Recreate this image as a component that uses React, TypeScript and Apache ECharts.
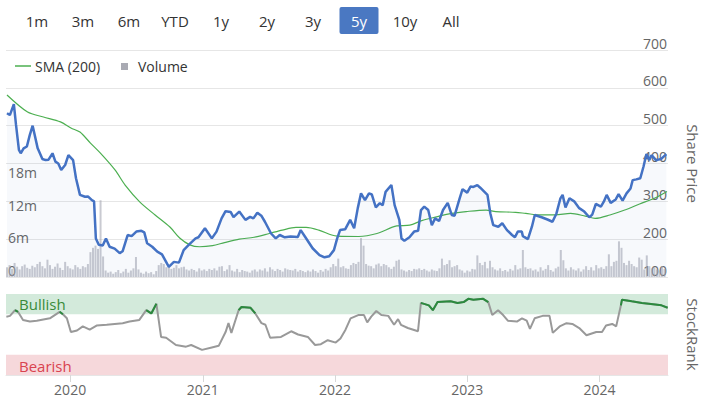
import React, { useEffect, useRef } from "react";
import * as echarts from "echarts";

const rangeButtons = ["1m", "3m", "6m", "YTD", "1y", "2y", "3y", "5y", "10y", "All"];
const activeRange = "5y";
const rangeStart = "2019-07-08";
const rangeEnd = "2024-07-08";
const volumeLabelMax = 18;

const price: [string, number][] = [
  ["2019-07-08", 533], ["2019-07-16", 528], ["2019-07-27", 557], ["2019-08-02", 502], ["2019-08-10", 436],
  ["2019-08-15", 427], ["2019-08-23", 440], ["2019-09-01", 445], ["2019-09-09", 475], ["2019-09-17", 500],
  ["2019-10-01", 440], ["2019-10-14", 412], ["2019-10-23", 409], ["2019-10-31", 410], ["2019-11-11", 427],
  ["2019-11-19", 405], ["2019-11-27", 400], ["2019-12-05", 383], ["2019-12-16", 396], ["2019-12-25", 422],
  ["2020-01-07", 409], ["2020-01-15", 361], ["2020-01-26", 317], ["2020-02-09", 312], ["2020-02-17", 313],
  ["2020-02-28", 303], ["2020-03-05", 300], ["2020-03-10", 202], ["2020-03-18", 185], ["2020-03-29", 183],
  ["2020-04-07", 202], ["2020-04-17", 180], ["2020-05-01", 175], ["2020-05-15", 163], ["2020-05-23", 168],
  ["2020-06-06", 211], ["2020-06-17", 208], ["2020-06-30", 220], ["2020-07-14", 222], ["2020-07-22", 218],
  ["2020-07-30", 189], ["2020-08-13", 180], ["2020-08-27", 167], ["2020-09-09", 160], ["2020-09-28", 127],
  ["2020-10-12", 140], ["2020-10-26", 138], ["2020-11-08", 171], ["2020-11-22", 185], ["2020-12-11", 202],
  ["2020-12-19", 205], ["2021-01-06", 229], ["2021-01-25", 202], ["2021-02-07", 220], ["2021-02-21", 255],
  ["2021-03-04", 274], ["2021-03-18", 272], ["2021-03-26", 258], ["2021-04-11", 273], ["2021-04-28", 251],
  ["2021-05-11", 259], ["2021-05-20", 255], ["2021-05-31", 270], ["2021-06-11", 262], ["2021-06-21", 246],
  ["2021-07-08", 215], ["2021-07-21", 202], ["2021-08-01", 211], ["2021-08-15", 205], ["2021-08-31", 207],
  ["2021-09-20", 206], ["2021-09-28", 224], ["2021-10-11", 205], ["2021-10-31", 176], ["2021-11-19", 158],
  ["2021-12-03", 152], ["2021-12-16", 155], ["2021-12-29", 171], ["2022-01-07", 202], ["2022-01-15", 224],
  ["2022-01-29", 226], ["2022-02-12", 251], ["2022-02-23", 229], ["2022-03-05", 282], ["2022-03-14", 321],
  ["2022-03-25", 303], ["2022-04-05", 321], ["2022-04-13", 318], ["2022-04-24", 284], ["2022-05-05", 295],
  ["2022-05-13", 290], ["2022-05-21", 325], ["2022-06-06", 343], ["2022-06-15", 290], ["2022-06-28", 251],
  ["2022-07-04", 202], ["2022-07-12", 196], ["2022-07-26", 205], ["2022-08-08", 220], ["2022-08-19", 222],
  ["2022-08-27", 277], ["2022-09-05", 286], ["2022-09-16", 277], ["2022-09-26", 237], ["2022-10-05", 255],
  ["2022-10-16", 248], ["2022-10-27", 277], ["2022-11-09", 296], ["2022-11-20", 264], ["2022-11-28", 262],
  ["2022-12-12", 308], ["2022-12-20", 332], ["2023-01-02", 323], ["2023-01-11", 339], ["2023-01-19", 338],
  ["2023-01-30", 343], ["2023-02-07", 336], ["2023-02-27", 317], ["2023-03-07", 268], ["2023-03-15", 237],
  ["2023-03-29", 233], ["2023-04-09", 242], ["2023-04-22", 224], ["2023-05-06", 211], ["2023-05-14", 205],
  ["2023-05-22", 220], ["2023-06-02", 220], ["2023-06-05", 208], ["2023-06-19", 200], ["2023-06-30", 233],
  ["2023-07-08", 264], ["2023-07-27", 258], ["2023-08-12", 252], ["2023-08-26", 246], ["2023-09-06", 268],
  ["2023-09-17", 308], ["2023-09-23", 317], ["2023-10-01", 284], ["2023-10-12", 308], ["2023-10-25", 300],
  ["2023-11-08", 282], ["2023-11-22", 273], ["2023-12-06", 258], ["2023-12-14", 265], ["2023-12-24", 293],
  ["2024-01-07", 286], ["2024-01-15", 299], ["2024-01-23", 317], ["2024-02-03", 296], ["2024-02-17", 305],
  ["2024-02-25", 319], ["2024-03-07", 302], ["2024-03-18", 321], ["2024-03-29", 334], ["2024-04-04", 356],
  ["2024-04-14", 358], ["2024-04-25", 361], ["2024-05-04", 392], ["2024-05-12", 425], ["2024-05-20", 409],
  ["2024-05-26", 422], ["2024-06-08", 409], ["2024-06-22", 412], ["2024-07-06", 425],
];

const sma200: [string, number][] = [
  ["2019-07-08", 581], ["2019-09-03", 536], ["2019-10-17", 523], ["2019-12-03", 510], ["2020-01-01", 494],
  ["2020-01-26", 483], ["2020-02-24", 454], ["2020-03-22", 428], ["2020-05-02", 383], ["2020-05-30", 343],
  ["2020-07-10", 298], ["2020-08-21", 264], ["2020-10-01", 232], ["2020-10-28", 203], ["2020-11-25", 185],
  ["2020-12-22", 180], ["2021-01-27", 183], ["2021-03-01", 191], ["2021-04-11", 200], ["2021-05-22", 205],
  ["2021-07-03", 215], ["2021-08-08", 224], ["2021-09-15", 231], ["2021-10-13", 231], ["2021-11-17", 224],
  ["2021-12-23", 211], ["2022-01-08", 208], ["2022-03-08", 207], ["2022-04-27", 215], ["2022-06-21", 235],
  ["2022-07-27", 237], ["2022-08-29", 249], ["2022-10-09", 259], ["2022-11-19", 268], ["2022-12-30", 273],
  ["2023-02-23", 277], ["2023-03-22", 273], ["2023-05-16", 271], ["2023-06-13", 268], ["2023-07-24", 264],
  ["2023-09-03", 264], ["2023-10-15", 268], ["2023-11-25", 261], ["2023-12-22", 255], ["2024-02-01", 264],
  ["2024-03-13", 277], ["2024-04-23", 293], ["2024-06-03", 308], ["2024-07-08", 326],
];

const stockRank: [string, number][] = [
  ["2019-07-09", 72], ["2019-07-19", 73], ["2019-08-02", 80], ["2019-08-10", 78], ["2019-08-24", 68],
  ["2019-09-12", 66], ["2019-10-01", 67], ["2019-11-06", 70], ["2019-12-03", 78], ["2019-12-12", 75],
  ["2019-12-23", 70], ["2020-01-03", 53], ["2020-01-20", 55], ["2020-02-05", 60], ["2020-02-24", 56],
  ["2020-03-14", 61], ["2020-04-11", 62], ["2020-05-25", 64], ["2020-06-13", 66], ["2020-07-10", 68],
  ["2020-07-29", 80], ["2020-08-12", 76], ["2020-08-26", 88], ["2020-09-08", 47], ["2020-09-22", 46],
  ["2020-10-19", 37], ["2020-11-16", 35], ["2020-11-30", 37], ["2020-12-30", 31], ["2021-01-26", 34],
  ["2021-02-14", 36], ["2021-03-05", 53], ["2021-03-13", 64], ["2021-03-21", 52], ["2021-04-10", 80],
  ["2021-04-18", 84], ["2021-05-13", 83], ["2021-05-26", 76], ["2021-06-12", 64], ["2021-06-23", 62],
  ["2021-07-06", 46], ["2021-08-05", 47], ["2021-09-02", 54], ["2021-09-21", 50], ["2021-10-18", 47],
  ["2021-11-07", 37], ["2021-11-23", 38], ["2021-12-12", 43], ["2022-01-03", 40], ["2022-01-16", 45],
  ["2022-01-30", 56], ["2022-02-13", 70], ["2022-03-06", 74], ["2022-03-22", 74], ["2022-03-31", 65],
  ["2022-04-11", 72], ["2022-04-25", 79], ["2022-05-09", 74], ["2022-05-28", 73], ["2022-06-13", 62],
  ["2022-06-24", 69], ["2022-07-02", 62], ["2022-07-21", 58], ["2022-08-18", 54], ["2022-08-26", 89],
  ["2022-09-17", 86], ["2022-09-28", 80], ["2022-10-11", 90], ["2022-11-16", 91], ["2022-12-05", 89],
  ["2022-12-22", 90], ["2023-01-04", 94], ["2023-01-18", 93], ["2023-02-14", 94], ["2023-02-28", 90],
  ["2023-03-11", 74], ["2023-03-27", 80], ["2023-04-10", 74], ["2023-04-23", 67], ["2023-05-18", 66],
  ["2023-06-01", 70], ["2023-06-14", 67], ["2023-06-23", 57], ["2023-07-06", 70], ["2023-07-28", 73],
  ["2023-08-16", 73], ["2023-08-25", 52], ["2023-09-13", 60], ["2023-10-02", 64], ["2023-10-18", 63],
  ["2023-11-06", 58], ["2023-11-26", 49], ["2023-12-23", 53], ["2024-01-08", 53], ["2024-01-19", 61],
  ["2024-02-05", 63], ["2024-02-16", 60], ["2024-02-29", 86], ["2024-03-03", 93], ["2024-03-30", 91],
  ["2024-04-27", 89], ["2024-05-16", 88], ["2024-06-20", 86], ["2024-07-07", 83],
];

// weekly volume (millions), first week starting 2019-07-08
const volumeFirstWeek = "2019-07-08";
const volumeMillions = [
  1.8, 2.2, 1.5, 2.6, 1.9, 1.4, 2.0, 2.3, 1.7, 1.5, 2.1, 1.8, 2.4, 2.8,
  2.0, 1.6, 3.2, 2.2, 1.5, 1.9, 2.5, 1.7, 1.3, 2.8, 2.0, 1.6, 1.4, 2.2, 1.8, 1.5, 2.0,
  1.8, 2.4, 4.6, 5.4, 5.8, 5.2, 14.2, 3.8,
  1.2, 0.8, 1.0, 0.6, 0.9, 1.3, 0.7, 1.0, 1.5, 0.8, 1.2, 1.6,
  3.7, 1.4, 0.8, 0.6, 1.0, 0.7, 0.9, 0.5, 1.1, 2.2,
  2.6, 2.4, 1.8, 2.0, 1.5, 1.7, 2.2, 1.6,
  1.8, 1.9, 1.4, 1.2, 1.5, 1.3, 1.0, 1.6, 1.2, 1.4, 1.1, 1.5,
  1.3, 1.6, 1.2, 1.9, 2.0, 1.1, 1.4, 2.2, 1.2, 1.0, 1.5, 0.9, 1.3, 1.1, 1.0, 0.8, 1.2, 1.4, 1.0, 1.4,
  1.2, 1.6, 1.0, 1.8, 1.4, 1.1, 1.5, 1.3, 1.0, 1.6, 1.4, 1.3, 1.2, 1.5, 1.0, 1.3, 1.1, 0.9, 1.2, 1.0,
  1.4, 1.1, 0.8, 1.3, 1.0, 1.5, 1.2, 1.8, 2.4, 2.0, 3.4,
  1.8, 2.0, 1.6, 1.5, 2.2, 2.6, 2.4, 2.8, 7.2,
  5.8, 2.4, 2.1, 2.0, 1.6, 2.3, 2.5, 2.0, 2.4, 2.2,
  1.8, 1.5, 1.9, 3.0, 3.2, 1.4, 1.2, 1.0, 1.3, 1.1,
  1.5, 1.4, 1.6, 1.3, 1.5, 1.2, 1.0, 1.4, 1.2, 1.1, 1.6, 3.4,
  2.2, 2.4, 3.1, 1.8, 2.0, 2.2, 1.4, 1.2,
  0.8, 1.2, 1.0, 1.5, 1.4, 4.0, 2.6, 2.2,
  2.8, 1.6, 3.0, 1.8, 1.4, 1.2, 1.6, 1.1,
  1.3, 1.0, 1.5, 1.2, 2.2, 1.4, 1.6, 5.0, 1.8, 1.5,
  1.6, 1.2, 1.4, 1.0, 1.8, 1.2, 1.5, 2.2, 1.3, 1.0, 1.6, 1.9,
  5.0, 3.1, 1.6, 1.2, 1.8, 1.4,
  1.2, 1.6, 1.0, 1.4, 2.0, 1.3, 1.8, 1.2, 2.2,
  1.6, 1.8, 1.5, 2.0, 4.2, 2.0, 2.8,
  3.0, 6.6, 5.4, 2.6, 2.2, 3.0, 2.4, 2.0, 1.8, 3.6,
  3.2, 1.4, 4.0, 2.0, 1.6, 1.8, 1.4, 1.2, 2.0, 1.5,
];

const bullishFrom = 75;
const bearishTo = 25;

const FONT = "'Open Sans', 'Noto Sans', sans-serif";
const DAY = 24 * 3600 * 1000;

function ts(s: string, addDays = 0): number {
  const [y, m, d] = s.split("-").map(Number);
  return new Date(y, m - 1, d + addDays).getTime();
}

export default function App() {
  const ref = useRef<HTMLDivElement>(null);

  useEffect(() => {
    if (!ref.current) return;
    const chart = echarts.init(ref.current, undefined, { renderer: "svg" });

    const toPairs = (arr: [string, number][]) => arr.map(([d, v]) => [ts(d), v]);
    const volumeData = volumeMillions.map((v, i) => [ts(volumeFirstWeek, 7 * i), v]);
    const xMin = ts(rangeStart);
    const xMax = ts(rangeEnd);
    const rankPairs = toPairs(stockRank);
    // green overlay: the stretches where the rank sits in the bullish zone
    const rankBullish = rankPairs.map(([t, v]) => [t, v >= bullishFrom ? v : null]);

    const btnCenter0 = 37;
    const btnStep = 46;
    const graphics: any[] = [];
    rangeButtons.forEach((label, i) => {
      const cx = btnCenter0 + i * btnStep;
      const active = label === activeRange;
      if (active) {
        graphics.push({
          type: "rect",
          shape: { x: cx - 19.5, y: 7, width: 39, height: 27, r: 2 },
          style: { fill: "#4a78c2" },
        });
      }
      graphics.push({
        type: "text",
        x: cx,
        y: 21,
        style: {
          text: label,
          fill: active ? "#ffffff" : "#333333",
          font: `15px ${FONT}`,
          align: "center",
          verticalAlign: "middle",
        },
      });
    });
    graphics.push(
      { type: "line", shape: { x1: 15, y1: 66, x2: 31, y2: 66 }, style: { stroke: "#4caf50", lineWidth: 1.5 } },
      { type: "text", x: 35, y: 66, style: { text: "SMA (200)", fill: "#333", font: `14px ${FONT}`, verticalAlign: "middle" } },
      { type: "rect", shape: { x: 121, y: 63, width: 7, height: 7 }, style: { fill: "#a9aab3" } },
      { type: "text", x: 138, y: 66, style: { text: "Volume", fill: "#333", font: `14px ${FONT}`, verticalAlign: "middle" } },
      { type: "text", x: 19, y: 304, z: 10, style: { text: "Bullish", fill: "#3a8a3a", font: `15px ${FONT}`, verticalAlign: "middle" } },
      { type: "text", x: 19, y: 366, z: 10, style: { text: "Bearish", fill: "#d9434f", font: `15px ${FONT}`, verticalAlign: "middle" } }
    );

    const option: any = {
      animation: false,
      backgroundColor: "#ffffff",
      textStyle: { fontFamily: FONT },
      graphic: graphics,
      grid: [
        { left: 6, right: 34, top: 50, height: 227 },
        { left: 6, right: 34, top: 294, height: 81 },
      ],
      xAxis: [
        { type: "time", gridIndex: 0, min: xMin, max: xMax, show: false },
        {
          type: "time",
          gridIndex: 1,
          min: xMin,
          max: xMax,
          minInterval: 365 * DAY,
          maxInterval: 366 * DAY,
          axisLine: { show: true, lineStyle: { color: "#e6e6e6" } },
          axisTick: { show: true, length: 7, lineStyle: { color: "#d8d8d8" } },
          axisLabel: {
            formatter: (v: number) => String(new Date(v).getFullYear()),
            color: "#666",
            fontSize: 14,
            margin: 7,
          },
          splitLine: { show: false },
        },
      ],
      yAxis: [
        {
          type: "value",
          gridIndex: 0,
          position: "right",
          min: 100,
          max: 700,
          interval: 100,
          axisLine: { show: false },
          axisTick: { show: false },
          axisLabel: { inside: true, verticalAlign: "bottom", color: "#666", fontSize: 14, margin: 1 },
          splitLine: { lineStyle: { color: "#e6e6e6" } },
          name: "Share Price",
          nameLocation: "middle",
          nameRotate: -90,
          nameGap: 17,
          nameTextStyle: { color: "#666", fontSize: 15 },
        },
        {
          type: "value",
          gridIndex: 0,
          position: "left",
          min: 0,
          max: 42,
          interval: 6,
          axisLine: { show: false },
          axisTick: { show: false },
          splitLine: { show: false },
          axisLabel: {
            inside: true,
            verticalAlign: "bottom",
            color: "#666",
            fontSize: 14,
            margin: 2,
            formatter: (v: number) => (v === 0 ? "0" : v <= volumeLabelMax ? `${v}m` : ""),
          },
        },
        {
          type: "value",
          gridIndex: 1,
          position: "right",
          min: 0,
          max: 100,
          interval: 100,
          axisLine: { show: false },
          axisTick: { show: false },
          splitLine: { lineStyle: { color: "#e6e6e6" } },
          axisLabel: {
            inside: true,
            verticalAlign: "bottom",
            color: "#666",
            fontSize: 14,
            margin: 3,
            formatter: (v: number) => (v === 0 ? "0" : ""),
          },
          name: "StockRank",
          nameLocation: "middle",
          nameRotate: -90,
          nameGap: 17,
          nameTextStyle: { color: "#666", fontSize: 15 },
        },
      ],
      series: [
        {
          name: "Volume",
          type: "bar",
          xAxisIndex: 0,
          yAxisIndex: 1,
          data: volumeData,
          barWidth: 2,
          itemStyle: { color: "rgba(165,167,178,0.6)" },
          z: 1,
          silent: true,
        },
        {
          name: "Price",
          type: "line",
          xAxisIndex: 0,
          yAxisIndex: 0,
          data: toPairs(price),
          showSymbol: false,
          lineStyle: { color: "#4472c4", width: 2.5 },
          itemStyle: { color: "#4472c4" },
          areaStyle: { color: "rgba(80,110,190,0.06)", origin: "start" },
          z: 3,
          silent: true,
        },
        {
          name: "SMA (200)",
          type: "line",
          xAxisIndex: 0,
          yAxisIndex: 0,
          data: toPairs(sma200),
          showSymbol: false,
          smooth: 0.3,
          lineStyle: { color: "#4caf50", width: 1.2 },
          itemStyle: { color: "#4caf50" },
          z: 2,
          silent: true,
        },
        {
          name: "BullishZone",
          type: "line",
          xAxisIndex: 1,
          yAxisIndex: 2,
          data: [[xMin, 100], [xMax, 100]],
          showSymbol: false,
          lineStyle: { width: 0, opacity: 0 },
          areaStyle: { color: "#d3eadb", opacity: 1, origin: bullishFrom },
          z: 1,
          silent: true,
        },
        {
          name: "BearishZone",
          type: "line",
          xAxisIndex: 1,
          yAxisIndex: 2,
          data: [[xMin, bearishTo], [xMax, bearishTo]],
          showSymbol: false,
          lineStyle: { width: 0, opacity: 0 },
          areaStyle: { color: "#f6d8db", opacity: 1, origin: "start" },
          z: 1,
          silent: true,
        },
        {
          name: "StockRank",
          type: "line",
          xAxisIndex: 1,
          yAxisIndex: 2,
          data: rankPairs,
          showSymbol: false,
          lineStyle: { width: 2, color: "#999999" },
          itemStyle: { color: "#999999" },
          z: 3,
          silent: true,
        },
        {
          name: "StockRankBullish",
          type: "line",
          xAxisIndex: 1,
          yAxisIndex: 2,
          data: rankBullish,
          showSymbol: false,
          connectNulls: false,
          lineStyle: { width: 2, color: "#2b8a3e" },
          itemStyle: { color: "#2b8a3e" },
          z: 4,
          silent: true,
        },
      ],
    };

    chart.setOption(option);
    return () => chart.dispose();
  }, []);

  return (
    <div
      ref={ref}
      style={{ position: "fixed", left: 0, top: 0, width: 708, height: 399, background: "#fff" }}
    />
  );
}
